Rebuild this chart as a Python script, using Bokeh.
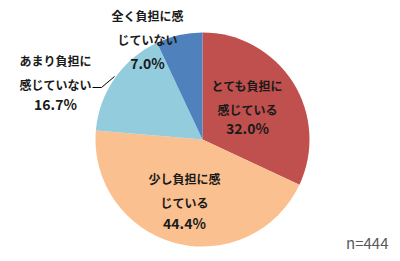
import math
from bokeh.plotting import figure
from bokeh.models import Range1d, ColumnDataSource
from bokeh.core.properties import value
from bokeh.embed import file_html
from bokeh.resources import INLINE

categories = ["とても負担に感じている", "少し負担に感じている", "あまり負担に感じていない", "全く負担に感じていない"]
values = [32.0, 44.4, 16.7, 7.0]
name_labels = ["とても負担に\n感じている", "少し負担に感\nじている",
               "あまり負担に\n感じていない", "全く負担に感\nじていない"]
pct_labels = ["32.0%", "44.4%", "16.7%", "7.0%"]
colors = ["#C0504D", "#FAC090", "#93CDDD", "#4F81BD"]
note = "n=444"

W, H = 400, 261
cx, cy, r = 202, H - 139, 107

total = sum(values)
starts, ends = [], []
cum = 0.0
for v in values:
    starts.append(math.pi / 2 - cum / total * 2 * math.pi)
    cum += v
    ends.append(math.pi / 2 - cum / total * 2 * math.pi)

p = figure(width=W, height=H, x_range=Range1d(0, W), y_range=Range1d(0, H),
           output_backend="svg", toolbar_location=None, min_border=0)
p.axis.visible = False
p.grid.visible = False
p.outline_line_color = None
p.background_fill_color = "white"

src = ColumnDataSource(dict(start=starts, end=ends, color=colors))
p.wedge(x=cx, y=cy, radius=r, start_angle="start", end_angle="end",
        direction="clock", fill_color="color", line_color=None, source=src)

# label positions (pixel coords, top-left origin)
lx = [247, 184, 55, 147]
name_y = [97, 190, 72, 27]
pct_y = [127, 222, 103, 62]
p.text(x=lx, y=[H - v for v in name_y], text=name_labels, text_align="center", text_baseline="middle",
       text_font=value("Noto Sans CJK JP"), text_font_style="bold", text_font_size="12px",
       text_line_height=1.45, text_color="#1a1a1a")
p.text(x=lx, y=[H - v for v in pct_y], text=pct_labels, text_align="center", text_baseline="middle",
       text_font=value("Noto Sans CJK JP"), text_font_style="bold", text_font_size="14px",
       text_color="#1a1a1a")

# leader line for small label
p.line(x=[92, 101, 114], y=[H - 87, H - 87, H - 76], line_color="#000000", line_width=1)

p.text(x=[388], y=[H - 242], text=[note], text_align="right", text_baseline="middle",
       text_font=value("Noto Sans CJK JP"), text_font_size="15px", text_color="#595959")

open("out.html", "w").write(file_html(p, INLINE))
